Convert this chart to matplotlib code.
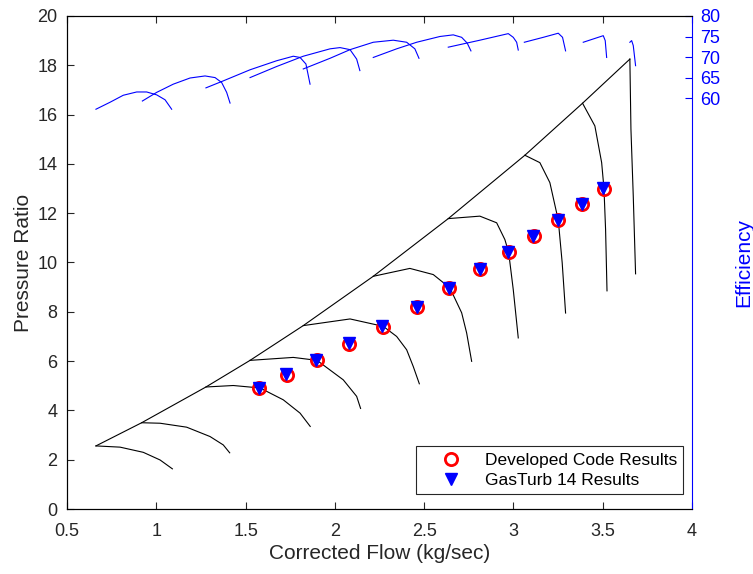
import matplotlib
matplotlib.use('Agg')
import matplotlib.pyplot as plt

plt.rcParams['font.family'] = ['Liberation Sans', 'DejaVu Sans']

# speed lines (corrected flow, pressure ratio)
speed_x = [
    [0.662, 0.797, 0.927, 1.021, 1.090],
    [0.918, 1.021, 1.170, 1.301, 1.375, 1.411],
    [1.278, 1.431, 1.581, 1.711, 1.805, 1.862],
    [1.525, 1.767, 1.900, 2.047, 2.122, 2.144],
    [1.823, 2.085, 2.271, 2.346, 2.402, 2.439, 2.473],
    [2.215, 2.420, 2.551, 2.644, 2.710, 2.738, 2.766],
    [2.635, 2.812, 2.906, 2.952, 2.973, 2.999, 3.027],
    [3.064, 3.148, 3.204, 3.251, 3.273, 3.292],
    [3.387, 3.456, 3.494, 3.507, 3.516, 3.524],
    [3.652, 3.658, 3.671, 3.684],
]
speed_pr = [
    [2.56, 2.51, 2.30, 1.99, 1.63],
    [3.50, 3.48, 3.32, 2.94, 2.60, 2.28],
    [4.95, 5.01, 4.91, 4.43, 3.89, 3.35],
    [6.03, 6.15, 6.03, 5.24, 4.57, 4.08],
    [7.44, 7.71, 7.41, 7.00, 6.46, 5.78, 5.08],
    [9.44, 9.76, 9.51, 8.97, 7.96, 7.14, 5.99],
    [11.78, 11.88, 11.61, 10.93, 10.42, 8.90, 6.94],
    [14.35, 14.05, 13.24, 11.72, 9.99, 7.95],
    [16.46, 15.54, 14.05, 13.00, 11.34, 8.85],
    [18.25, 15.41, 12.70, 9.54],
]

# efficiency lines (corrected flow, efficiency %)
eff_x = [
    [0.662, 0.741, 0.815, 0.890, 0.946, 1.002, 1.049, 1.086],
    [0.922, 1.002, 1.095, 1.189, 1.273, 1.329, 1.366, 1.394, 1.413],
    [1.278, 1.375, 1.525, 1.674, 1.767, 1.805, 1.838, 1.861],
    [1.525, 1.674, 1.823, 1.973, 2.029, 2.085, 2.122, 2.140],
    [1.823, 1.973, 2.085, 2.215, 2.327, 2.402, 2.448, 2.471],
    [2.215, 2.346, 2.458, 2.588, 2.663, 2.710, 2.741, 2.762],
    [2.635, 2.812, 2.971, 2.999, 3.018, 3.027],
    [3.061, 3.167, 3.251, 3.275, 3.292],
    [3.391, 3.503, 3.514, 3.522],
    [3.652, 3.662, 3.671, 3.684],
]
eff_val = [
    [57.3, 59.0, 60.7, 61.5, 61.5, 60.8, 59.6, 57.3],
    [59.3, 61.4, 63.4, 64.9, 65.4, 65.0, 63.8, 61.4, 58.8],
    [62.5, 64.2, 66.9, 69.1, 70.2, 69.9, 68.3, 63.4],
    [65.0, 67.7, 70.2, 72.0, 72.3, 71.8, 69.5, 66.7],
    [67.1, 69.7, 71.8, 73.6, 74.1, 73.6, 72.0, 69.7],
    [69.9, 72.0, 73.6, 75.0, 75.4, 74.8, 73.4, 71.5],
    [72.4, 74.1, 75.7, 74.8, 73.6, 71.7],
    [73.6, 74.8, 75.8, 74.8, 71.5],
    [73.6, 75.2, 74.0, 69.9],
    [73.6, 74.0, 72.8, 67.9],
]

# surge line
surge_x = [0.662, 0.918, 1.278, 1.525, 1.823, 2.215, 2.635, 3.064, 3.387, 3.652]
surge_pr = [2.56, 3.50, 4.95, 6.03, 7.44, 9.44, 11.78, 14.35, 16.46, 18.25]

# operating points
dev_x = [1.577, 1.732, 1.900, 2.081, 2.269, 2.461, 2.641, 2.814, 2.973, 3.115, 3.251, 3.385, 3.507]
dev_pr = [4.90, 5.45, 6.03, 6.71, 7.40, 8.19, 8.97, 9.72, 10.42, 11.07, 11.72, 12.36, 13.00]
gt_x = [1.574, 1.729, 1.897, 2.078, 2.266, 2.458, 2.638, 2.811, 2.970, 3.112, 3.248, 3.382, 3.504]
gt_pr = [4.91, 5.46, 6.04, 6.72, 7.41, 8.20, 8.98, 9.73, 10.43, 11.08, 11.73, 12.37, 13.01]

fig = plt.figure(figsize=(7.53, 5.74), dpi=100)
ax = fig.add_axes([0.089, 0.1132, 0.830, 0.859])

for xs, ys in zip(speed_x, speed_pr):
    ax.plot(xs, ys, color='black', lw=0.8)
ax.plot(surge_x, surge_pr, color='black', lw=0.8)

h1, = ax.plot(dev_x, dev_pr, 'o', ms=8.8, mfc='none', mec='red', mew=2.0)
h2, = ax.plot(gt_x, gt_pr, 'v', ms=8.5, color='blue')

ax.set_xlim(0.5, 4)
ax.set_ylim(0, 20)
ax.set_xticks([0.5, 1, 1.5, 2, 2.5, 3, 3.5, 4])
ax.set_xticklabels(['0.5', '1', '1.5', '2', '2.5', '3', '3.5', '4'])
ax.set_yticks(range(0, 21, 2))
ax.tick_params(direction='in', top=True, labelsize=13, colors='#262626', length=5)
ax.tick_params(axis='x', pad=10)
ax.tick_params(axis='y', pad=7)
ax.set_xlabel('Corrected Flow (kg/sec)', fontsize=15, color='#262626', labelpad=3)
ax.set_ylabel('Pressure Ratio', fontsize=15, color='#262626', labelpad=3)
ax.spines['right'].set_visible(False)

ax2 = ax.twinx()
for xs, ys in zip(eff_x, eff_val):
    ax2.plot(xs, ys, color='blue', lw=0.8)
ax2.set_ylim(-40, 80)
ax2.set_yticks([60, 65, 70, 75, 80])
ax2.tick_params(direction='in', colors='blue', labelsize=13, length=5, pad=6)
ax2.spines['right'].set_color('blue')
ax2.set_ylabel('Efficiency', color='blue', fontsize=15, labelpad=10)

leg = ax2.legend([h1, h2], ['Developed Code Results', 'GasTurb 14 Results'], loc='lower right',
                 fontsize=12.5, fancybox=False, edgecolor='#262626', framealpha=1,
                 bbox_to_anchor=(1 - 9 / 625, 15 / 493), borderaxespad=0,
                 handlelength=3.3, handletextpad=0.3, borderpad=0.35, labelspacing=0.3)
leg.get_frame().set_linewidth(0.8)

fig.savefig('out.png', dpi=100)
